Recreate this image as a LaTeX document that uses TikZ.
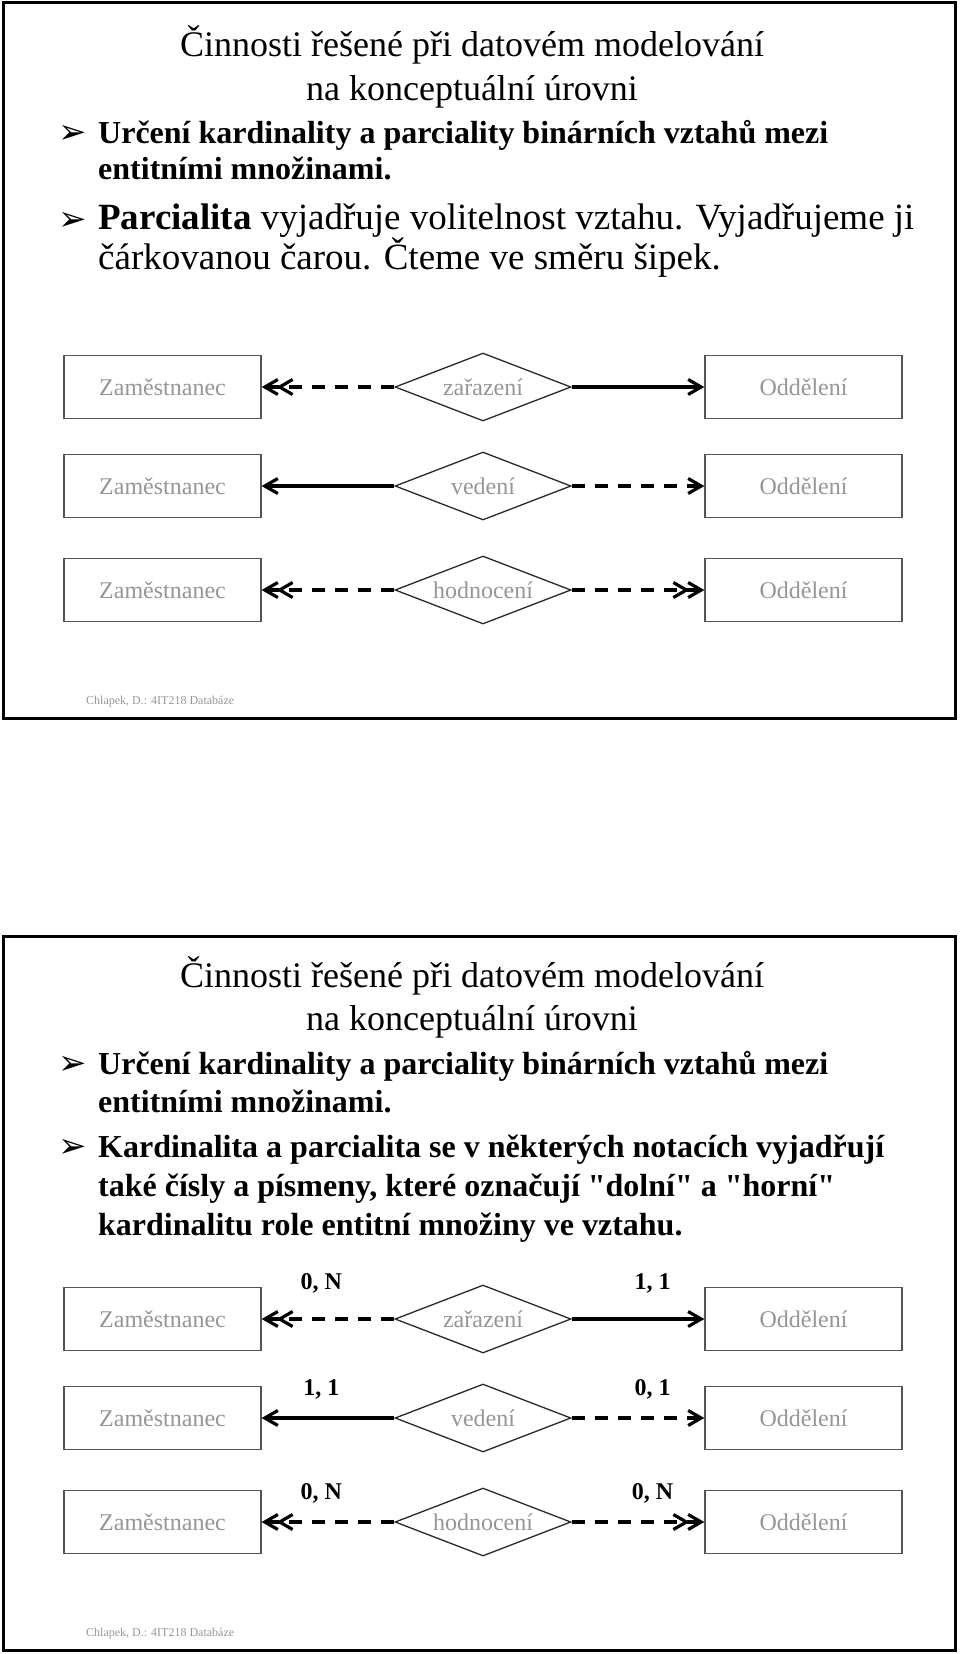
\documentclass[tikz,border=0pt]{standalone}
\usepackage{fontspec}
\setmainfont{Liberation Serif}
\newfontfamily\dingfont{DejaVu Sans}
\newfontfamily\straightq{Liberation Serif}
\newcommand\rawquote{{\straightq"}}
\usepackage{tikz}
\usetikzlibrary{arrows.meta,positioning,shapes.geometric}
\definecolor{textgray}{RGB}{150,150,150}
\definecolor{boxgray}{RGB}{85,85,85}
\definecolor{linedark}{RGB}{40,40,40}

\begin{document}
\begin{tikzpicture}[
      x=1pt, y=-1pt,
      slideframe/.style={draw=black, line width=3pt},
      headline/.style={anchor=base, inner sep=0pt, font=\fontsize{36}{40}\selectfont},
      pointbold/.style={anchor=base west, inner sep=0pt, font=\bfseries\fontsize{32}{36}\selectfont},
      pointbig/.style={anchor=base west, inner sep=0pt, font=\fontsize{37}{40}\selectfont},
      bulletsym/.style={inner sep=0pt, font=\dingfont\fontsize{34}{36}\selectfont},
      footer/.style={anchor=base west, inner sep=0pt, text=textgray, font=\fontsize{12}{14}\selectfont},
      entity/.style={
        draw=boxgray,
        line width=1.3pt,
        minimum width=197pt,
        minimum height=63pt,
        text=textgray,
        font=\fontsize{24}{28}\selectfont
      },
      relation/.style={
        diamond,
        aspect=2.6,
        draw=linedark,
        line width=1.3pt,
        minimum width=176pt,
        minimum height=68pt,
        inner sep=0pt,
        text=textgray,
        font=\fontsize{24}{28}\selectfont
      },
      card/.style={font=\bfseries\fontsize{24}{28}\selectfont},
      mandatory/.style={line width=3.2pt},
      optional/.style={line width=3.2pt, dash pattern=on 13pt off 10pt},
      one/.style={-{Straight Barb[length=13pt,width=15pt]}},
      many/.style={-{Straight Barb[length=13pt,width=15pt,sep=-3pt] Straight Barb[length=13pt,width=15pt]}},
  ]
  \useasboundingbox (0,0) rectangle (960,1654);

  % horni snimek
  \draw[slideframe] (3,3) rectangle (955,718);
  \node[headline] (titA1) at (472,57) {Činnosti řešené při datovém modelování};
  \node[headline] (titA2) at (472,100) {na konceptuální úrovni};
  \node[bulletsym] (bulA1) at (73,134) {➢};
  \node[pointbold] (ptA1) at (98,143) {Určení kardinality a parciality binárních vztahů mezi};
  \node[pointbold] (ptA2) at (98,179) {entitními množinami.};
  \node[bulletsym] (bulA2) at (73,221) {➢};
  \node[pointbig] (ptA3) at (98,229) {\textbf{Parcialita} vyjadřuje volitelnost vztahu. Vyjadřujeme ji};
  \node[pointbig] (ptA4) at (98,269) {čárkovanou čarou. Čteme ve směru šipek.};

  % 1. zarazeni
  \node[entity] (zamA1) at (162.5,387) {Zaměstnanec};
  \node[relation] (relA1) at (483,387) {zařazení};
  \node[entity] (oddA1) at (803.5,387) {Oddělení};
  \draw[optional, many] (relA1.west) -- (zamA1.east);
  \draw[mandatory, one] (relA1.east) -- (oddA1.west);
  % 2. vedeni
  \node[entity] (zamA2) at (162.5,486) {Zaměstnanec};
  \node[relation] (relA2) at (483,486) {vedení};
  \node[entity] (oddA2) at (803.5,486) {Oddělení};
  \draw[mandatory, one] (relA2.west) -- (zamA2.east);
  \draw[optional, one] (relA2.east) -- (oddA2.west);
  % 3. hodnoceni
  \node[entity] (zamA3) at (162.5,590) {Zaměstnanec};
  \node[relation] (relA3) at (483,590) {hodnocení};
  \node[entity] (oddA3) at (803.5,590) {Oddělení};
  \draw[optional, many] (relA3.west) -- (zamA3.east);
  \draw[optional, many] (relA3.east) -- (oddA3.west);

  \node[footer] (patA) at (86,704) {Chlapek, D.: 4IT218 Databáze};

  % dolni snimek
  \draw[slideframe] (3,936) rectangle (955,1650);
  \node[headline] (titB1) at (472,987) {Činnosti řešené při datovém modelování};
  \node[headline] (titB2) at (472,1030) {na konceptuální úrovni};
  \node[bulletsym] (bulB1) at (73,1065) {➢};
  \node[pointbold] (ptB1) at (98,1074) {Určení kardinality a parciality binárních vztahů mezi};
  \node[pointbold] (ptB2) at (98,1112) {entitními množinami.};
  \node[bulletsym] (bulB2) at (73,1148) {➢};
  \node[pointbold] (ptB3) at (98,1157) {Kardinalita a parcialita se v některých notacích vyjadřují};
  \node[pointbold] (ptB4) at (98,1196) {také čísly a písmeny, které označují \rawquote dolní\rawquote{} a \rawquote horní\rawquote};
  \node[pointbold] (ptB5) at (98,1235) {kardinalitu role entitní množiny ve vztahu.};

  % 1. zarazeni
  \node[entity] (zamB1) at (162.5,1319) {Zaměstnanec};
  \node[relation] (relB1) at (483,1319) {zařazení};
  \node[entity] (oddB1) at (803.5,1319) {Oddělení};
  \draw[optional, many] (relB1.west) -- node[card, pos=.55, yshift=36pt] (kB1) {0, N} (zamB1.east);
  \draw[mandatory, one] (relB1.east) -- node[card, pos=.61, yshift=36pt] (kB2) {1, 1} (oddB1.west);
  % 2. vedeni
  \node[entity] (zamB2) at (162.5,1418) {Zaměstnanec};
  \node[relation] (relB2) at (483,1418) {vedení};
  \node[entity] (oddB2) at (803.5,1418) {Oddělení};
  \draw[mandatory, one] (relB2.west) -- node[card, pos=.55, yshift=29pt] (kB3) {1, 1} (zamB2.east);
  \draw[optional, one] (relB2.east) -- node[card, pos=.61, yshift=29pt] (kB4) {0, 1} (oddB2.west);
  % 3. hodnoceni
  \node[entity] (zamB3) at (162.5,1522) {Zaměstnanec};
  \node[relation] (relB3) at (483,1522) {hodnocení};
  \node[entity] (oddB3) at (803.5,1522) {Oddělení};
  \draw[optional, many] (relB3.west) -- node[card, pos=.55, yshift=29pt] (kB5) {0, N} (zamB3.east);
  \draw[optional, many] (relB3.east) -- node[card, pos=.61, yshift=29pt] (kB6) {0, N} (oddB3.west);

  \node[footer] (patB) at (86,1636) {Chlapek, D.: 4IT218 Databáze};
\end{tikzpicture}
\end{document}
